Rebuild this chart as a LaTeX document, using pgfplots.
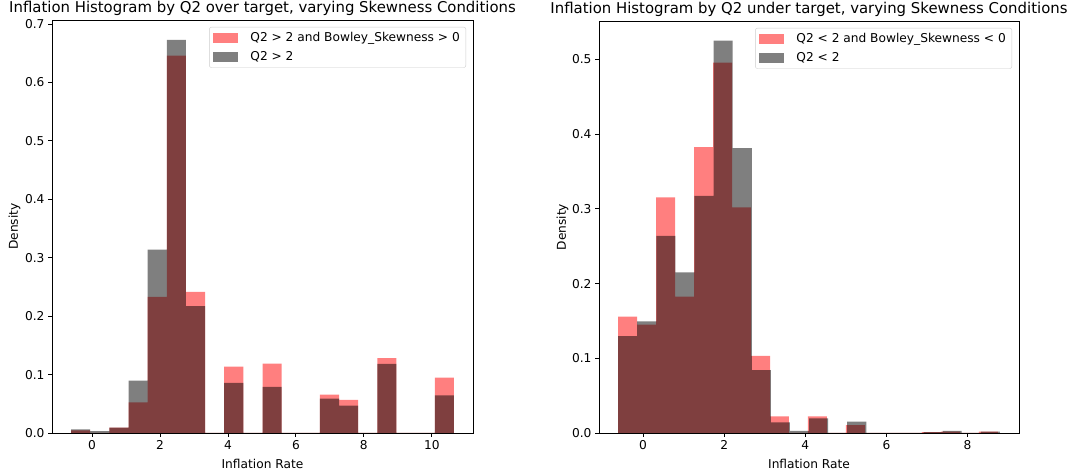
\documentclass[border=0pt]{standalone}
\usepackage{fontspec}
\setmainfont{DejaVu Sans}
\usepackage{pgfplots}
\pgfplotsset{compat=1.18}
\definecolor{lgnd}{RGB}{204,204,204}
\pgfplotsset{
  histax/.style={
    scale only axis,
    anchor=south west,
    ymin=0,
    axis line style={line width=0.9pt},
    every tick/.style={black, line width=0.9pt},
    major tick length=4pt,
    tick align=outside,
    tick pos=left,
    /pgf/number format/assume math mode=true,
    tick label style={font=\fontsize{12.2}{14}\selectfont},
    yticklabel style={/pgf/number format/.cd, fixed, fixed zerofill, precision=1},
    xticklabel style={/pgf/number format/.cd, fixed, precision=0},
    every axis title/.style={at={(0.5,1)}, anchor=base, yshift=7pt, inner sep=0pt, font=\fontsize{14.9}{17}\selectfont},
    label style={font=\fontsize{12.2}{14}\selectfont},
    xlabel style={at={(axis description cs:0.5,0)}, anchor=base, yshift=-35pt, inner sep=0pt},
    xlabel={Inflation Rate},
    ylabel={Density},
    legend style={font=\fontsize{12.2}{14}\selectfont, draw=lgnd, rounded corners=2pt,
      at={(axis description cs:1,1)}, anchor=north east, xshift=-7pt, yshift=-7pt,
      inner xsep=4pt, inner ysep=3.5pt, row sep=4pt},
    legend cell align=left,
    legend image code/.code={\path[##1, sharp corners] (0pt,-5pt) rectangle (25pt,5pt); \path (35pt,0pt);},
  },
  redh/.style={fill=red, fill opacity=0.5, draw=none, const plot mark left},
  grayh/.style={fill=black, fill opacity=0.5, draw=none, const plot mark left},
}
\begin{document}
\begin{tikzpicture}
\useasboundingbox (0,0) rectangle (1075pt,473pt);
\begin{axis}[histax,
  at={(52pt,40pt)}, width=421pt, height=413pt,
  xmin=-1.181, xmax=11.213, ymax=0.707,
  xtick={0,2,4,6,8,10}, ytick={0,0.1,0.2,0.3,0.4,0.5,0.6,0.7},
  title={Inflation Histogram by Q2 over target, varying Skewness Conditions},
  ylabel style={at={(axis description cs:-0.0808,0.5)}, anchor=base, inner sep=0pt},
]
\addplot[redh] coordinates {
(-0.618,0.0046) (-0.055,0) (0.509,0.009) (1.072,0.0526) (1.636,0.233)
(2.199,0.646) (2.762,0.2417) (3.326,0) (3.889,0.1137) (4.453,0)
(5.016,0.1189) (5.579,0) (6.143,0) (6.706,0.0657) (7.270,0.0566)
(7.833,0) (8.396,0.128) (8.960,0) (9.523,0) (10.087,0.0949) (10.650,0.0949)
} \closedcycle;
\addlegendentry{Q2 > 2 and Bowley\_Skewness > 0}
\addplot[grayh] coordinates {
(-0.618,0.0063) (-0.055,0.003) (0.509,0.009) (1.072,0.0897) (1.636,0.314)
(2.199,0.673) (2.762,0.217) (3.326,0) (3.889,0.0857) (4.453,0)
(5.016,0.0789) (5.579,0) (6.143,0) (6.706,0.0589) (7.270,0.0469)
(7.833,0) (8.396,0.1183) (8.960,0) (9.523,0) (10.087,0.0646) (10.650,0.0646)
} \closedcycle;
\addlegendentry{Q2 > 2}
\end{axis}
\begin{axis}[histax,
  at={(599pt,40pt)}, width=420pt, height=412pt,
  xmin=-1.087, xmax=9.271, ymax=0.5516,
  xtick={0,2,4,6,8}, ytick={0,0.1,0.2,0.3,0.4,0.5},
  title={Inflation Histogram by Q2 under target, varying Skewness Conditions},
  ylabel style={at={(axis description cs:-0.0786,0.5)}, anchor=base, inner sep=0pt},
]
\addplot[redh] coordinates {
(-0.616,0.1557) (-0.148,0.145) (0.320,0.3156) (0.789,0.1826) (1.257,0.3827)
(1.725,0.496) (2.193,0.3022) (2.661,0.1034) (3.130,0.0224) (3.598,0)
(4.066,0.0224) (4.534,0) (5.002,0.0107) (5.471,0) (5.939,0)
(6.407,0) (6.875,0.0013) (7.343,0.002) (7.812,0) (8.280,0.002) (8.748,0.002)
} \closedcycle;
\addlegendentry{Q2 < 2 and Bowley\_Skewness < 0}
\addplot[grayh] coordinates {
(-0.616,0.1298) (-0.145,0.1494) (0.326,0.264) (0.796,0.2152) (1.267,0.3173)
(1.738,0.5253) (2.209,0.3813) (2.680,0.0841) (3.150,0.0143) (3.621,0.0027)
(4.092,0.0197) (4.563,0) (5.034,0.0152) (5.504,0) (5.975,0)
(6.446,0) (6.917,0.0013) (7.388,0.0027) (7.858,0) (8.329,0.0018) (8.800,0.0018)
} \closedcycle;
\addlegendentry{Q2 < 2}
\end{axis}
\end{tikzpicture}
\end{document}
